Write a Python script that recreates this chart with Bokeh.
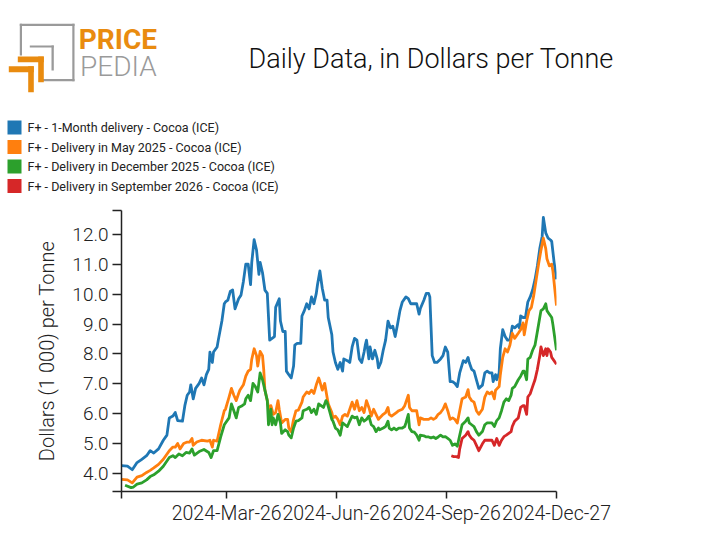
import pandas as pd
from bokeh.plotting import figure
from bokeh.core.properties import value
from bokeh.models import Range1d, FixedTicker, Label, ColumnDataSource
from bokeh.embed import file_html
from bokeh.resources import INLINE

# ---------------- data (day offsets from 2023-12-29, values in 1000 USD/t) ----------------
START = "2023-12-29"
END = "2024-12-27"

series_names = [
    "F+ - 1-Month delivery - Cocoa (ICE)",
    "F+ - Delivery in May 2025 - Cocoa (ICE)",
    "F+ - Delivery in December 2025 - Cocoa (ICE)",
    "F+ - Delivery in September 2026 - Cocoa (ICE)",
]
series_colors = ["#1f77b4", "#ff7f0e", "#2ca02c", "#d62728"]

blue_days = [0, 5, 9, 13, 17, 21, 24, 27, 31, 35, 38, 40, 43, 45, 47, 51, 53, 55, 57, 58, 60, 62, 65, 67, 69, 71, 73, 74, 76, 77, 80, 81, 84, 86,
             87, 89, 91, 93, 95, 98, 100, 102, 104, 106, 108, 109, 111, 113, 115, 116, 118, 120, 122, 124, 126, 128, 129, 132, 133, 135, 137, 138, 140, 142, 144, 145, 147, 150, 151, 153, 155, 157, 159, 161, 163, 164, 166, 168, 170, 172, 173, 176, 177,
             179, 181, 183, 185, 186, 189, 191, 193, 195, 197, 199, 201, 203, 204, 205, 207, 208, 210, 212, 214, 215, 217, 219, 221, 223, 225, 227, 229, 231, 233, 235, 238, 240, 242, 245, 247, 249, 250, 253, 255, 257, 258, 260, 262, 264, 267, 269,
             271, 273, 275, 277, 279, 281, 283, 286, 288, 290, 291, 293, 295, 297, 299, 302, 304, 306, 308, 310, 311, 313, 314, 316, 317, 319, 321, 323, 325, 327, 329, 332, 333, 334, 336, 338, 340, 342, 344, 346, 348, 350, 352, 353, 355, 357, 359, 360, 362, 364]
blue_vals = [4.25, 4.23, 4.11, 4.35, 4.46, 4.58, 4.75, 4.67, 4.81, 5.10, 5.27, 5.85, 5.91, 6.03, 5.76, 5.74, 6.26, 6.61, 6.72, 6.96, 6.49, 6.84, 7.01, 7.19, 6.96, 7.30, 7.48, 8.06, 7.71, 8.06, 8.23, 8.46, 9.10, 9.68,
             9.74, 9.80, 10.09, 10.14, 9.51, 9.85, 9.97, 10.43, 11.01, 11.01, 10.32, 11.07, 11.83, 11.48, 10.67, 11.07, 10.72, 10.14, 10.03, 8.46, 8.52, 8.58, 9.56, 9.85, 9.10, 8.75, 8.75, 7.42, 7.30, 7.19, 7.59, 8.29, 8.35, 8.35, 9.27, 9.45, 9.68, 9.51, 9.91, 9.68, 10.03, 10.32, 10.78, 10.20, 9.80, 9.80, 9.22, 8.64, 8.06,
             7.71, 7.48, 7.71, 7.42, 7.83, 7.77, 7.71, 8.23, 8.52, 8.46, 7.83, 7.71, 8.06, 8.29, 8.46, 7.83, 8.23, 7.83, 8.12, 7.83, 7.53, 7.71, 8.12, 8.46, 9.10, 8.87, 8.93, 8.58, 8.99, 9.45, 9.74, 9.91, 9.85, 9.68, 9.68, 9.68, 9.33, 9.51, 9.80, 10.03, 10.03, 9.91, 7.94, 7.71, 7.71, 7.83, 7.94,
             8.23, 8.06, 7.07, 7.07, 7.01, 6.90, 7.36, 7.77, 7.71, 7.88, 7.71, 7.48, 7.42, 7.13, 6.84, 6.95, 7.36, 7.42, 7.36, 7.36, 7.07, 7.30, 7.13, 7.36, 8.17, 8.81, 8.58, 8.46, 8.46, 8.93, 8.87, 8.98, 8.87, 9.27, 9.22, 9.22, 9.74, 9.91, 10.14, 10.49, 10.95, 11.53, 11.94, 12.58, 12.06, 11.88, 11.82, 11.77, 11.07, 10.50]

orange_days = [0, 5, 9, 13, 17, 21, 24, 27, 31, 35, 40, 43, 45, 47, 49, 52, 55, 57, 59, 60, 63, 67, 72, 74, 76, 77, 80, 83, 86,
               87, 90, 92, 94, 96, 98, 99, 102, 104, 106, 108, 109, 111, 113, 114, 116, 118, 119, 120, 122, 124, 125, 127, 129, 131, 132, 134, 137, 139, 140, 142, 144, 146, 148, 151, 152, 155, 157, 159, 161, 163, 165, 166, 168, 170, 171, 173, 176, 177,
               179, 181, 183, 185, 187, 189, 191, 193, 195, 197, 199, 201, 203, 205, 207, 209, 211, 213, 215, 216, 219, 221, 223, 224, 226, 228, 230, 232, 235, 237, 238, 240, 241, 243, 245, 247, 249, 250, 253, 255, 257, 259, 261, 263, 265, 267, 269,
               271, 273, 275, 277, 279, 281, 283, 285, 288, 290, 291, 293, 295, 297, 299, 302, 304, 306, 308, 310, 312, 313, 316, 317, 319, 321, 323, 325, 327, 329, 332, 334, 336, 337, 339, 341, 343, 345, 347, 349, 351, 353, 355, 356, 358, 360, 361, 364]
orange_vals = [3.79, 3.77, 3.67, 3.86, 3.91, 4.02, 4.09, 4.17, 4.29, 4.46, 4.75, 4.87, 4.87, 4.99, 4.81, 4.99, 5.04, 5.04, 5.16, 4.93, 5.04, 5.10, 5.07, 5.10, 4.87, 5.10, 5.07, 5.62, 6.09,
               6.14, 6.55, 6.84, 6.61, 6.43, 6.67, 6.78, 6.96, 7.25, 7.42, 7.48, 7.82, 8.17, 7.94, 7.59, 8.08, 7.94, 7.48, 6.78, 6.43, 5.97, 6.26, 5.97, 6.03, 6.43, 6.14, 5.68, 5.80, 5.80, 5.51, 5.39, 5.80, 6.09, 6.11, 6.38, 6.55, 6.72, 6.67, 6.78, 6.67, 6.96, 7.19, 7.07, 6.78, 7.01, 6.78, 6.32, 6.03, 5.85,
               5.91, 5.80, 5.62, 5.91, 5.97, 5.91, 6.14, 6.38, 6.14, 6.43, 6.09, 6.20, 6.03, 6.43, 6.20, 5.91, 6.14, 5.97, 5.80, 5.85, 5.97, 6.03, 6.20, 5.97, 5.91, 5.97, 6.03, 6.09, 6.14, 6.26, 6.38, 6.61, 6.20, 6.09, 6.09, 6.09, 5.62, 5.85, 5.80, 5.80, 5.80, 5.85, 5.80, 5.85, 5.97, 6.03, 6.14,
               6.32, 6.09, 5.80, 5.85, 5.80, 5.68, 6.09, 6.49, 6.55, 6.80, 6.55, 6.43, 6.38, 6.09, 5.97, 6.14, 6.55, 6.72, 6.66, 6.72, 6.49, 6.78, 6.90, 7.30, 7.88, 8.17, 8.06, 8.29, 8.69, 8.52, 8.69, 8.81, 9.04, 8.64, 9.10, 9.45, 9.56, 9.97, 10.49, 11.01, 11.48, 11.88, 11.53, 11.19, 10.95, 11.01, 10.78, 9.62]

green_days = [3, 8, 10, 13, 17, 21, 24, 27, 31, 35, 40, 43, 45, 48, 51, 54, 57, 59, 61, 65, 69, 73, 75, 77, 80, 83, 86,
              90, 92, 94, 96, 98, 101, 103, 104, 106, 108, 110, 112, 114, 116, 118, 120, 122, 123, 125, 126, 127, 129, 131, 133, 134, 137, 139, 140, 142, 144, 146, 148, 151, 152, 155, 157, 159, 161, 163, 165, 167, 169, 171, 172, 174, 176, 177,
              179, 181, 183, 185, 187, 189, 191, 193, 195, 197, 199, 201, 203, 205, 207, 209, 211, 213, 215, 216, 219, 221, 223, 224, 226, 228, 230, 232, 235, 237, 238, 240, 241, 243, 245, 247, 249, 250, 253, 255, 257, 259, 261, 263, 265, 267, 269,
              271, 273, 275, 277, 279, 281, 283, 285, 288, 290, 291, 293, 295, 297, 299, 302, 304, 306, 308, 310, 312, 314, 316, 318, 320, 322, 324, 326, 327, 329, 332, 334, 336, 337, 339, 340, 342, 344, 346, 348, 350, 351, 353, 355, 356, 358, 360, 361, 364]
green_vals = [3.59, 3.51, 3.53, 3.63, 3.67, 3.77, 3.88, 3.94, 4.06, 4.23, 4.52, 4.58, 4.52, 4.64, 4.58, 4.69, 4.67, 4.81, 4.60, 4.72, 4.79, 4.69, 4.52, 4.75, 4.75, 5.21, 5.62,
              5.85, 6.32, 6.09, 5.85, 6.20, 6.26, 6.32, 6.49, 6.61, 6.43, 7.01, 6.90, 6.72, 7.36, 7.13, 6.78, 6.43, 5.62, 6.14, 5.62, 5.85, 5.62, 5.97, 5.68, 5.33, 5.45, 5.39, 5.27, 5.18, 5.51, 5.74, 5.76, 5.85, 6.09, 6.14, 6.20, 6.03, 6.14, 5.97, 6.32, 6.26, 6.20, 6.43, 6.38, 6.09, 5.80, 5.74,
              5.51, 5.45, 5.27, 5.68, 5.62, 5.56, 5.74, 5.91, 5.85, 5.88, 5.62, 5.85, 5.74, 5.80, 5.91, 5.62, 5.56, 5.39, 5.51, 5.45, 5.51, 5.56, 5.74, 5.51, 5.45, 5.51, 5.45, 5.51, 5.51, 5.56, 5.68, 5.97, 5.51, 5.39, 5.37, 5.27, 5.10, 5.27, 5.25, 5.21, 5.21, 5.18, 5.21, 5.16, 5.21, 5.27, 5.21,
              5.22, 5.16, 5.10, 4.93, 4.98, 4.90, 5.27, 5.62, 5.74, 5.85, 5.68, 5.62, 5.56, 5.39, 5.27, 5.39, 5.62, 5.68, 5.68, 5.68, 5.56, 5.76, 5.85, 6.09, 6.38, 6.49, 6.43, 6.61, 6.84, 6.90, 7.13, 7.25, 7.42, 7.42, 7.13, 7.82, 7.88, 8.12, 8.29, 8.75, 9.22, 9.45, 9.51, 9.68, 9.45, 9.33, 9.22, 8.98, 8.12]

red_days = [276, 278, 280, 282, 283, 285, 288, 290, 291, 293, 295, 297, 299, 302, 304, 306, 308, 310, 312, 314, 316, 318, 320, 322, 324, 326, 327, 329, 332, 334, 336, 337, 339, 340, 342, 344, 346, 348, 350, 351, 353, 355, 356, 357, 359, 360, 364]
red_vals = [4.58, 4.55, 4.55, 4.52, 4.81, 5.16, 5.27, 5.39, 5.27, 5.16, 5.10, 4.93, 4.75, 4.98, 5.10, 5.10, 5.10, 5.10, 4.93, 5.16, 4.93, 5.10, 5.22, 5.27, 5.33, 5.39, 5.56, 5.74, 5.85, 6.20, 6.26, 6.26, 5.97, 6.55, 6.66, 6.90, 7.13, 7.48, 7.94, 8.23, 7.94, 8.17, 7.94, 8.17, 8.06, 7.88, 7.65]

y_ticks = [4.0, 5.0, 6.0, 7.0, 8.0, 9.0, 10.0, 11.0, 12.0]
x_tick_dates = ["2023-12-29", "2024-03-26", "2024-06-26", "2024-09-26", "2024-12-27"]
x_tick_labels = ["", "2024-Mar-26", "2024-Jun-26", "2024-Sep-26", "2024-Dec-27"]
Y_MIN, Y_MAX = 3.38, 12.81

title_text = "Daily Data, in Dollars per Tonne"
y_label = "Dollars (1 000) per Tonne"

LIGHT = "Roboto Light, Roboto"
REG = "Roboto"
ORANGE = "#e98b0f"
GRAY = "#9a9a9a"
INK = "#222222"

# ---------------- header (logo, title, legend) ----------------
HEAD_H = 200
head = figure(width=712, height=HEAD_H, output_backend="svg", toolbar_location=None,
              x_range=Range1d(0, 712), y_range=Range1d(HEAD_H, 0),
              x_axis_location=None, y_axis_location=None,
              min_border=0, min_border_left=0, min_border_right=0,
              min_border_top=0, min_border_bottom=0)
head.outline_line_color = None
head.grid.visible = False
head.background_fill_color = "white"
head.border_fill_color = "white"

# logo pieces (left, right, top, bottom) in header pixels
logo_left = [19.3, 19.3, 71.8, 41.7, 29.3, 51.0, 17.3, 37.7, 8.3, 27.7]
logo_right = [21.5, 74.0, 74.0, 74.0, 53.3, 53.3, 43.3, 43.3, 33.3, 33.3]
logo_top = [23.3, 23.3, 23.3, 78.5, 45.0, 45.0, 56.0, 56.0, 65.7, 65.7]
logo_bottom = [55.0, 25.5, 80.7, 80.7, 47.0, 70.0, 61.7, 81.7, 71.7, 91.7]
logo_color = [GRAY] * 6 + [ORANGE] * 4
head.quad(left=logo_left, right=logo_right, top=logo_top, bottom=logo_bottom,
          fill_color=logo_color, line_color=None)
head.add_layout(Label(x=78.3, y=38.8, text="PRICE", text_font=REG, text_font_style="bold",
                      text_font_size="28px", text_color=ORANGE, text_baseline="alphabetic"))
head.add_layout(Label(x=79.5, y=65.5, text="PEDIA", text_font=LIGHT,
                      text_font_size="28px", text_color=GRAY, text_baseline="alphabetic"))

head.add_layout(Label(x=248, y=58.0, text=title_text, text_font=LIGHT,
                      text_font_size="27px", text_color="#111111",
                      text_baseline="alphabetic", text_align="left"))

# legend: colour squares + labels, one row per series
LEG_X, LEG_Y0, LEG_ROW, LEG_BOX = 7.0, 127.0, 19.5, 14.0
rows = list(range(len(series_names)))
row_y = [LEG_Y0 + i * LEG_ROW for i in rows]
leg_src = ColumnDataSource(dict(
    l=[LEG_X] * len(rows), r=[LEG_X + LEG_BOX] * len(rows),
    t=[y - LEG_BOX / 2 for y in row_y], b=[y + LEG_BOX / 2 for y in row_y],
    tx=[LEG_X + LEG_BOX + 6] * len(rows), ty=row_y,
    color=series_colors, label=series_names))
head.quad(left="l", right="r", top="t", bottom="b", fill_color="color",
          line_color=None, source=leg_src)
head.text(x="tx", y="ty", text="label", source=leg_src, text_font=value(REG),
          text_font_size="12.5px", text_color=INK, text_baseline="middle",
          text_align="left")

# ---------------- main chart ----------------
start = pd.Timestamp(START)
p = figure(width=712, height=353, output_backend="svg", toolbar_location=None,
           x_axis_type="datetime",
           x_range=Range1d(start, pd.Timestamp(END)),
           y_range=Range1d(Y_MIN, Y_MAX),
           min_border_left=121, min_border_right=156,
           min_border_top=10, min_border_bottom=62)
p.outline_line_color = None
p.xgrid.visible = False
p.ygrid.visible = False
p.background_fill_color = "white"
p.border_fill_color = "white"

all_days = [blue_days, orange_days, green_days, red_days]
all_vals = [blue_vals, orange_vals, green_vals, red_vals]
for days, vals, col in zip(all_days, all_vals, series_colors):
    src = ColumnDataSource(dict(x=start + pd.to_timedelta(days, unit="D"), y=vals))
    p.line("x", "y", source=src, line_color=col, line_width=2.8, line_join="round")

xa = p.xaxis[0]
tick_ms = [pd.Timestamp(d).value / 1e6 for d in x_tick_dates]
xa.ticker = FixedTicker(ticks=tick_ms)
xa.major_label_overrides = {t: lab for t, lab in zip(tick_ms, x_tick_labels)}
xa.minor_tick_line_color = None
xa.major_tick_in = 0
xa.major_tick_out = 7
xa.major_label_standoff = 3
xa.major_label_text_font = LIGHT
xa.major_label_text_font_size = "19.5px"
xa.major_label_text_color = INK
xa.axis_line_color = INK
xa.axis_line_width = 1.5
xa.major_tick_line_color = INK
xa.major_tick_line_width = 1.5

ya = p.yaxis[0]
ya.ticker = FixedTicker(ticks=[Y_MIN] + y_ticks + [Y_MAX])
ya.major_label_overrides = {Y_MIN: "", Y_MAX: "", **{t: f"{t:.1f}" for t in y_ticks}}
ya.minor_tick_line_color = None
ya.major_tick_in = 0
ya.major_tick_out = 9
ya.major_label_standoff = 4
ya.major_label_text_font = LIGHT
ya.major_label_text_font_size = "19px"
ya.major_label_text_color = INK
ya.axis_line_color = INK
ya.axis_line_width = 1.5
ya.major_tick_line_color = INK
ya.major_tick_line_width = 1.5
ya.axis_label = y_label
ya.axis_label_text_font = LIGHT
ya.axis_label_text_font_size = "20px"
ya.axis_label_text_font_style = "normal"
ya.axis_label_text_color = INK
ya.axis_label_standoff = 10

open("out.html", "w").write(file_html([head, p], INLINE))
